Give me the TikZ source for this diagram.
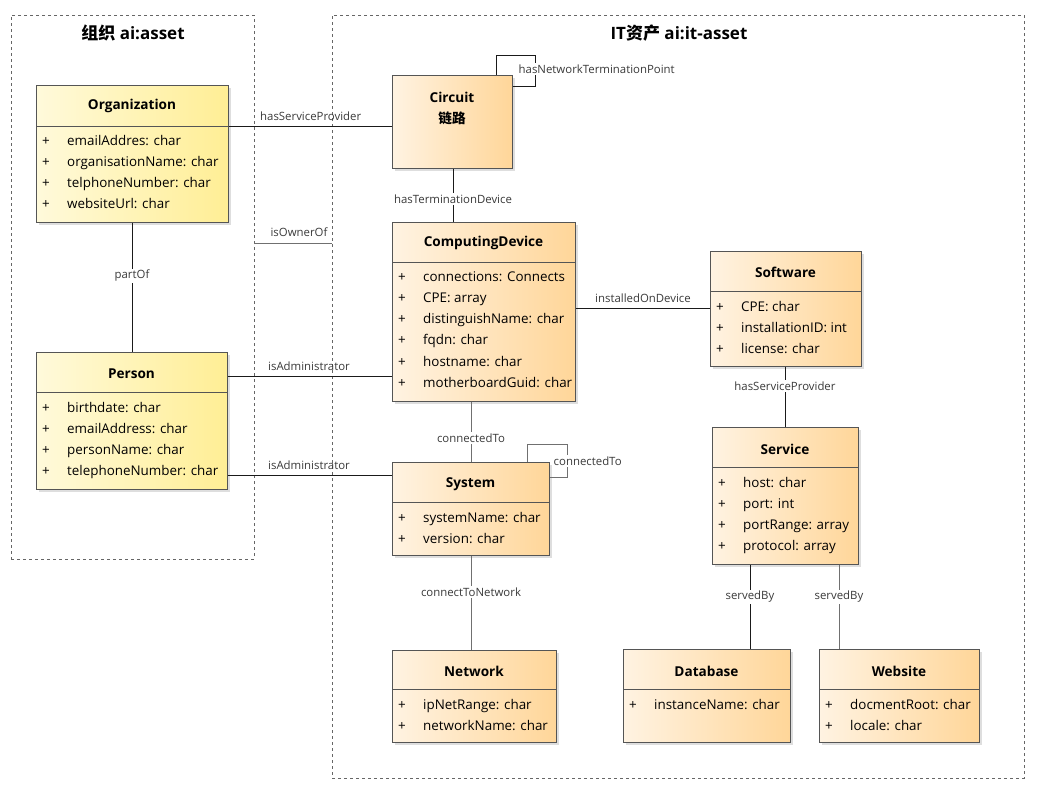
\documentclass[tikz,border=0pt]{standalone}
\usepackage{fontspec}
\setmainfont{Open Sans}
\newfontfamily\cjk{Noto Sans CJK SC}
\usetikzlibrary{fit,shadows}
\definecolor{ylL}{HTML}{FFFADB}
\definecolor{ylR}{HTML}{FFEE95}
\definecolor{orL}{HTML}{FFF3E2}
\definecolor{orR}{HTML}{FFD699}
\definecolor{bordr}{HTML}{555555}
\definecolor{lnk}{HTML}{1A1A1A}
\definecolor{glnk}{HTML}{707070}
\definecolor{lbl}{HTML}{3A3A3A}
\tikzset{
  classbox/.style={draw=bordr, line width=1pt, inner sep=0pt, shading angle=90,
    drop shadow={shadow xshift=3pt, shadow yshift=-3pt, fill=black!13, opacity=1}},
  ybox/.style={classbox, left color=ylL, right color=ylR},
  obox/.style={classbox, left color=orL, right color=orR},
  ctitle/.style={font=\fontsize{13.6}{15}\selectfont\bfseries, inner sep=0pt},
  attrtxt/.style={font=\fontsize{13.4}{15}\selectfont, anchor=base west, inner sep=0pt},
  sepline/.style={draw=bordr, line width=0.9pt},
  frame/.style={draw=black!60, dashed, line width=0.8pt, inner sep=0pt},
  ftitle/.style={font=\fontsize{17}{19}\selectfont\bfseries, inner sep=0pt},
  link/.style={draw=lnk, line width=0.8pt},
  glink/.style={draw=glnk, line width=1pt},
  elabel/.style={font=\fontsize{11.4}{13}\selectfont, text=lbl, inner sep=1pt},
  flabel/.style={elabel, fill=white, inner sep=1.5pt},
}
% \classattrs{x-left}{first y}{list}
\newcommand\classattrs[3]{%
  \foreach \t [count=\i from 0] in {#3} {
    \node[attrtxt] at ({#1+6},{#2+5+21.3*\i}) {+};
    \node[attrtxt] at ({#1+31},{#2+5+21.3*\i}) {\t};
  }%
}
\begin{document}
\begin{tikzpicture}[x=1pt,y=-1pt]
\useasboundingbox (0,0) rectangle (1037,788);
% frames
\node[frame, fit={(11,15)(254,559)}] (lframe) {};
\node[frame, fit={(332,15)(1024,778)}] (rframe) {};
\node[ftitle] (lft) at (133,33) {{\cjk\bfseries 组织} ai:asset};
\node[ftitle] (rft) at (679,33) {IT{\cjk\bfseries 资产} ai:it-asset};

% Organization
\node[ybox, fit={(36,85)(228,222)}] (org) {};
\draw[sepline] (36,126) -- (228,126);
\node[ctitle] (orgT) at (132,106) {Organization};
\classattrs{36}{140}{emailAddres: char,organisationName: char,telphoneNumber: char,websiteUrl: char}

% Person
\node[ybox, fit={(36,352)(227,489)}] (per) {};
\draw[sepline] (36,392) -- (227,392);
\node[ctitle] (perT) at (131.5,374) {Person};
\classattrs{36}{407}{birthdate: char,emailAddress: char,personName: char,telephoneNumber: char}

% Circuit
\node[obox, fit={(392,75)(512,168)}] (cir) {};
\node[ctitle] (cirT) at (452,97) {Circuit};
\node[ctitle] (cirT2) at (452,118) {\cjk\bfseries 链路};

% ComputingDevice
\node[obox, fit={(392,222)(575,401)}] (cd) {};
\draw[sepline] (392,262) -- (575,262);
\node[ctitle] (cdT) at (483.5,243) {ComputingDevice};
\classattrs{392}{276}{connections: Connects,CPE: array,distinguishName: char,fqdn: char,hostname: char,motherboardGuid: char}

% Software
\node[obox, fit={(710,251)(861,366)}] (sw) {};
\draw[sepline] (710,291) -- (861,291);
\node[ctitle] (swT) at (785.5,272) {Software};
\classattrs{710}{306}{CPE: char,installationID: int,license: char}

% Service
\node[obox, fit={(712,427)(858,564)}] (svc) {};
\draw[sepline] (712,467) -- (858,467);
\node[ctitle] (svcT) at (785,449) {Service};
\classattrs{712}{482}{host: char,port: int,portRange: array,protocol: array}

% System
\node[obox, fit={(392,462)(549,555)}] (sys) {};
\draw[sepline] (392,502) -- (549,502);
\node[ctitle] (sysT) at (470.5,484) {System};
\classattrs{392}{517}{systemName: char,version: char}

% Network
\node[obox, fit={(392,650)(556,742)}] (net) {};
\draw[sepline] (392,689) -- (556,689);
\node[ctitle] (netT) at (474,671) {Network};
\classattrs{392}{704}{ipNetRange: char,networkName: char}

% Database
\node[obox, fit={(623,649)(790,742)}] (db) {};
\draw[sepline] (623,689) -- (790,689);
\node[ctitle] (dbT) at (706.5,671) {Database};
\classattrs{623}{704}{instanceName: char}

% Website
\node[obox, fit={(819,649)(979,742)}] (web) {};
\draw[sepline] (819,689) -- (979,689);
\node[ctitle] (webT) at (899,671) {Website};
\classattrs{819}{704}{docmentRoot: char,locale: char}

% ---- connectors ----
\draw[link] (org.east |- 0,126) -- (cir.west |- 0,126);
\node[elabel, anchor=west] (l1) at (259,116) {hasServiceProvider};

\draw[glink] (lframe.east |- 0,243) -- (rframe.west |- 0,243);
\node[elabel] (l2) at (299,232) {isOwnerOf};

\draw[link] (org.south -| 132,0) -- (per.north -| 132,0);
\node[flabel] (l3) at (132,276) {partOf};

\draw[link] (per.east |- 0,376) -- (cd.west |- 0,376);
\node[elabel, anchor=west] (l4) at (267,366) {isAdministrator};

\draw[link] (per.east |- 0,475) -- (sys.west |- 0,475);
\node[elabel, anchor=west] (l5) at (267,465) {isAdministrator};

\draw[link] (cir.south -| 453,0) -- (cd.north -| 453,0);
\node[flabel] (l6) at (453,199) {hasTerminationDevice};

\draw[link] (cir.north -| 496,0) |- (535,55) |- (cir.east |- 0,86);
\node[flabel, anchor=west] (l7) at (517,69) {hasNetworkTerminationPoint};

\draw[link] (cd.east |- 0,308) -- (sw.west |- 0,308);
\node[elabel] (l8) at (643,298) {installedOnDevice};

\draw[link] (sw.south -| 785,0) -- (svc.north -| 785,0);
\node[flabel] (l9) at (785,386) {hasServiceProvider};

\draw[glink] (cd.south -| 471,0) -- (sys.north -| 471,0);
\node[flabel] (l10) at (471,438) {connectedTo};

\draw[glink] (sys.north -| 527,0) |- (567,444) |- (sys.east |- 0,477);
\node[flabel, anchor=west] (l11) at (552,461) {connectedTo};

\draw[glink] (sys.south -| 471,0) -- (net.north -| 471,0);
\node[flabel] (l12) at (471,592) {connectToNetwork};

\draw[link] (svc.south -| 750,0) -- (db.north -| 750,0);
\node[flabel] (l13) at (750,597) {servedBy};

\draw[glink] (svc.south -| 839,0) -- (web.north -| 839,0);
\node[flabel] (l14) at (839,597) {servedBy};
\end{tikzpicture}
\end{document}
